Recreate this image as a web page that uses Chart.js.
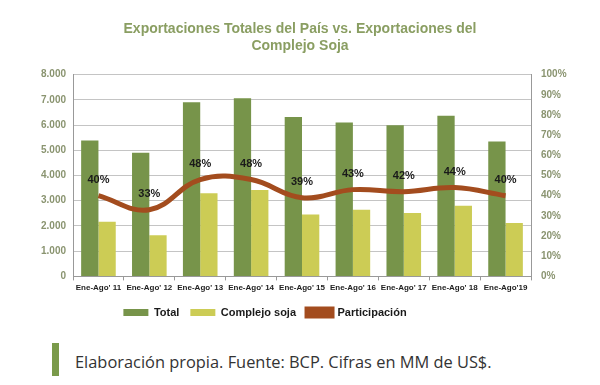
<!DOCTYPE html>
<html lang="es">
<head>
<meta charset="UTF-8">
<title>Exportaciones Totales vs Complejo Soja</title>
<style>
    body { margin: 0; background: #fff; }
    #wrap { position: relative; width: 600px; height: 385px; }
    #box { position: absolute; left: 0; top: 0; width: 600px; height: 328px; }
    .note-bar {
        position: absolute; left: 52px; top: 343px;
        width: 7px; height: 33px; background: #7a9a4a;
    }
    .note {
        position: absolute; left: 75px; top: 350px;
        font-family: "Open Sans", sans-serif; font-size: 16.4px;
        color: #333;
    }
</style>
</head>
<body>
<div id="wrap">
    <div id="box"><canvas id="chart"></canvas></div>
    <div class="note-bar"></div>
    <div class="note">Elaboración propia. Fuente: BCP. Cifras en MM de US$.</div>
</div>
<script src="https://cdn.jsdelivr.net/npm/chart.js"></script>
<script>
    const categories = ["Ene-Ago' 11", "Ene-Ago' 12", "Ene-Ago' 13", "Ene-Ago' 14", "Ene-Ago' 15",
        "Ene-Ago' 16", "Ene-Ago' 17", "Ene-Ago' 18", "Ene-Ago'19"];
    const total = [5390, 4900, 6900, 7060, 6320, 6100, 5990, 6370, 5350];
    const soja = [2170, 1630, 3300, 3430, 2450, 2640, 2510, 2800, 2120];
    const participacion = [40, 33, 48, 48, 39, 43, 42, 44, 40];

    // etiquetas de porcentaje sobre la línea
    const pctLabels = {
        id: 'pctLabels',
        afterDatasetsDraw(chart) {
            const meta = chart.getDatasetMeta(2);
            const ctx = chart.ctx;
            ctx.save();
            ctx.font = 'bold 11px Arial';
            ctx.fillStyle = '#1a1a1a';
            ctx.textAlign = 'center';
            ctx.textBaseline = 'middle';
            meta.data.forEach((pt, i) => {
                ctx.fillText(participacion[i] + '%', pt.x, pt.y - 16);
            });
            ctx.restore();
        }
    };

    // la leyenda del original no está centrada, va un poco a la izquierda
    const legendShift = {
        id: 'legendShift',
        afterLayout(chart) {
            chart.legend.left -= 35;
            chart.legend.right -= 35;
        }
    };

    new Chart(document.getElementById('chart'), {
        type: 'bar',
        data: {
            labels: categories,
            datasets: [
                {
                    label: 'Total', data: total, backgroundColor: '#77944a',
                    yAxisID: 'y', order: 2,
                    barPercentage: 1, categoryPercentage: 0.68
                },
                {
                    label: 'Complejo soja', data: soja, backgroundColor: '#cccc55',
                    yAxisID: 'y', order: 2,
                    barPercentage: 1, categoryPercentage: 0.68
                },
                {
                    label: 'Participación', type: 'line', data: participacion,
                    borderColor: '#a34c1e', backgroundColor: '#a34c1e',
                    borderWidth: 5, tension: 0.4, pointRadius: 0,
                    yAxisID: 'y1', order: 1
                }
            ]
        },
        options: {
            responsive: true,
            maintainAspectRatio: false,
            animation: false,
            layout: { padding: { top: 15, left: 0, right: 0, bottom: 0 } },
            plugins: {
                title: {
                    display: true,
                    text: ['Exportaciones Totales del País vs. Exportaciones del', 'Complejo Soja'],
                    color: '#8a9e62',
                    font: { family: 'Arial', size: 14, weight: 'bold', lineHeight: 1.2 },
                    padding: { top: 6, bottom: 20 }
                },
                legend: {
                    position: 'bottom',
                    labels: {
                        color: '#1a1a1a',
                        font: { family: 'Arial', size: 11, weight: 'bold' },
                        boxWidth: 25, boxHeight: 7, padding: 11,
                        sort: (a, b) => a.datasetIndex - b.datasetIndex
                    }
                },
                tooltip: { enabled: false }
            },
            scales: {
                x: {
                    grid: { drawOnChartArea: false, drawTicks: true, tickLength: 4, color: '#999' },
                    border: { color: '#999' },
                    ticks: {
                        color: '#222', maxRotation: 0, autoSkip: false, padding: 3,
                        font: { family: 'Arial', size: 8, weight: 'bold' }
                    }
                },
                y: {
                    position: 'left', min: 0, max: 8000,
                    afterFit(s) { s.width = 73; },
                    grid: { color: '#c4c4c4', drawTicks: false },
                    border: { color: '#999' },
                    ticks: {
                        stepSize: 1000, color: '#8a9470', padding: 7,
                        font: { family: 'Arial', size: 10, weight: 'bold' },
                        callback: v => v.toLocaleString('de-DE')
                    }
                },
                y1: {
                    position: 'right', min: 0, max: 100,
                    afterFit(s) { s.width = 69; },
                    grid: { drawOnChartArea: false, drawTicks: false },
                    border: { color: '#999' },
                    ticks: {
                        stepSize: 10, color: '#8a9470', padding: 10,
                        font: { family: 'Arial', size: 10, weight: 'bold' },
                        callback: v => v + '%'
                    }
                }
            }
        },
        plugins: [pctLabels, legendShift]
    });
</script>
</body>
</html>
